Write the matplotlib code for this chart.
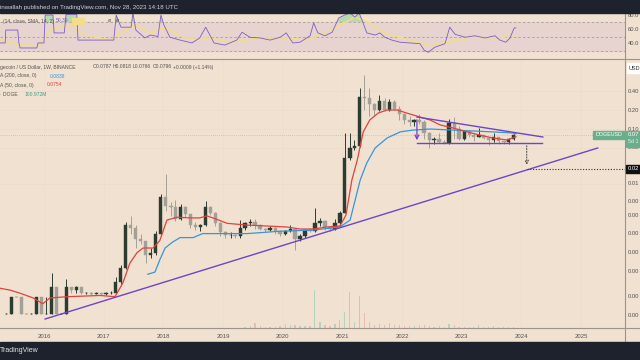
import matplotlib
matplotlib.use("Agg")
import matplotlib.pyplot as plt
import numpy as np
import pandas as pd
from matplotlib.patches import Rectangle
from matplotlib.lines import Line2D

plt.rcParams['font.family'] = ['Liberation Sans', 'DejaVu Sans']

BG = "#f1e1d1"
DARK = "#1e222d"
TXT = "#555250"

# monthly DOGE/USD candles, May 2015 .. Nov 2023
months = pd.date_range("2015-05-01", "2023-11-01", freq="MS")
close = [0.000117, 0.00022, 0.00022, 0.000117, 0.000117, 0.000117, 0.00022, 0.000117,
         0.000117, 0.00031, 0.000117, 0.000117, 0.00031, 0.00028, 0.00031, 0.00025, 0.00025, 0.00024, 0.00025, 0.00024,
         0.00025, 0.00025, 0.00038, 0.00062, 0.0030, 0.0027, 0.0018, 0.0017, 0.0010, 0.0011, 0.0022, 0.0085,
         0.0060, 0.0058, 0.0038, 0.0058, 0.0045, 0.0030, 0.0028, 0.0030, 0.0058, 0.0047, 0.0032, 0.0023,
         0.0021, 0.0021, 0.0020, 0.0027, 0.0032, 0.0033, 0.0030, 0.0026, 0.0025, 0.0027, 0.0024, 0.0022,
         0.0024, 0.0026, 0.0018, 0.0020, 0.0025, 0.0024, 0.0032, 0.0035, 0.0028, 0.0026, 0.0032, 0.0047,
         0.035, 0.050, 0.054, 0.32, 0.31, 0.245, 0.20, 0.28, 0.20, 0.27, 0.21, 0.17,
         0.14, 0.13, 0.14, 0.13, 0.086, 0.066, 0.069, 0.063, 0.061, 0.125, 0.100, 0.070,
         0.092, 0.080, 0.076, 0.080, 0.072, 0.067, 0.074, 0.064, 0.063, 0.069, 0.0796]
high = [0.00012, 0.00022, 0.00022, 0.00022, 0.000117, 0.00012, 0.00022, 0.00022,
        0.00022, 0.00052, 0.00031, 0.00012, 0.00042, 0.00031, 0.00033, 0.00031, 0.00026, 0.00026, 0.00026, 0.00025,
        0.00026, 0.00027, 0.00045, 0.00070, 0.0034, 0.0042, 0.0030, 0.0022, 0.0017, 0.0013, 0.0024, 0.0095,
        0.0194, 0.0070, 0.0075, 0.0065, 0.0060, 0.0045, 0.0034, 0.0031, 0.0072, 0.0060, 0.0048, 0.0033,
        0.0024, 0.0023, 0.0022, 0.0036, 0.0034, 0.0038, 0.0037, 0.0031, 0.0027, 0.0029, 0.0028, 0.0025,
        0.0025, 0.0030, 0.0027, 0.0022, 0.0026, 0.0027, 0.0055, 0.0039, 0.0036, 0.0029, 0.0037, 0.0050,
        0.087, 0.085, 0.066, 0.45, 0.72, 0.44, 0.26, 0.35, 0.31, 0.30, 0.29, 0.23,
        0.18, 0.16, 0.145, 0.17, 0.14, 0.09, 0.075, 0.088, 0.066, 0.146, 0.155, 0.11,
        0.095, 0.098, 0.085, 0.104, 0.081, 0.074, 0.087, 0.076, 0.065, 0.072, 0.082]
low = [0.000115, 0.000117, 0.00022, 0.000117, 0.000117, 0.000115, 0.000117, 0.000117,
       0.000117, 0.000117, 0.000117, 0.000115, 0.000117, 0.00025, 0.00025, 0.00024, 0.00024, 0.00023, 0.00024, 0.00023,
       0.00023, 0.00024, 0.00024, 0.00035, 0.00060, 0.0022, 0.0013, 0.0015, 0.00075, 0.00090, 0.0010, 0.0021,
       0.0050, 0.0042, 0.0035, 0.0036, 0.0040, 0.0027, 0.0025, 0.0024, 0.0029, 0.0044, 0.0029, 0.0020,
       0.0019, 0.0019, 0.0019, 0.0019, 0.0025, 0.0029, 0.0026, 0.0025, 0.0023, 0.0024, 0.0022, 0.0020,
       0.0021, 0.0023, 0.0012, 0.0017, 0.0019, 0.0023, 0.0023, 0.0029, 0.0025, 0.0024, 0.0025, 0.0030,
       0.0046, 0.032, 0.046, 0.052, 0.20, 0.16, 0.16, 0.19, 0.19, 0.19, 0.20, 0.14,
       0.12, 0.11, 0.11, 0.12, 0.07, 0.05, 0.058, 0.06, 0.058, 0.058, 0.07, 0.068,
       0.068, 0.076, 0.064, 0.075, 0.069, 0.055, 0.063, 0.058, 0.058, 0.057, 0.067]
# volume, billions DOGE
vol = [0] * 48 + [0.1, 0.2, 0.5, 0.2, 0.1, 0.1, 0.1, 0.2,
                  0.4, 0.3, 0.3, 0.2, 0.2, 0.2, 3.8, 0.6, 0.3, 0.2, 0.4, 0.8,
                  1.6, 3.6, 0.6, 3.2, 1.5, 0.6, 0.3, 0.4, 0.3, 0.5, 0.3, 0.3,
                  0.2, 0.2, 0.2, 0.3, 0.3, 0.2, 0.1, 0.2, 0.1, 0.4, 0.3, 0.1,
                  0.1, 0.1, 0.1, 0.3, 0.1, 0.1, 0.2, 0.1, 0.1, 0.1, 0.1]

ma50_t = [2015.26, 2015.43, 2015.60, 2015.82, 2015.98, 2016.10, 2016.39, 2016.94, 2017.19, 2017.32,
          2017.44, 2017.56, 2017.66, 2017.83, 2017.94, 2018.06, 2018.23, 2018.45, 2018.61, 2018.73,
          2018.83, 2019.07, 2019.40, 2019.74, 2020.07, 2020.29, 2020.51, 2020.74, 2020.96, 2021.06,
          2021.16, 2021.25, 2021.35, 2021.46, 2021.60, 2021.75, 2021.92, 2022.08, 2022.30, 2022.47,
          2022.64, 2022.85, 2023.09, 2023.31, 2023.52, 2023.76, 2023.91]
ma50 = [0.00030, 0.00028, 0.00025, 0.00021, 0.00017, 0.00021, 0.00022, 0.00023, 0.00022, 0.00036,
        0.00075, 0.0011, 0.0013, 0.0013, 0.0017, 0.0036, 0.0040, 0.0039, 0.0039, 0.0042,
        0.0039, 0.0032, 0.0030, 0.0029, 0.0028, 0.0026, 0.0026, 0.0028, 0.0029, 0.0043,
        0.0156, 0.032, 0.090, 0.139, 0.179, 0.20, 0.20, 0.179, 0.155, 0.139,
        0.116, 0.104, 0.090, 0.080, 0.072, 0.067, 0.0754]
ma200_t = [2017.74, 2017.86, 2017.94, 2018.03, 2018.15, 2018.28, 2018.50, 2018.66, 2018.83, 2019.07,
           2019.40, 2019.96, 2020.51, 2020.96, 2021.13, 2021.30, 2021.41, 2021.55, 2021.75, 2021.97,
           2022.18, 2022.47, 2022.85, 2023.19, 2023.52, 2023.86, 2023.91]
ma200 = [0.00050, 0.00054, 0.00084, 0.0013, 0.0016, 0.0019, 0.0019, 0.0022, 0.0022, 0.0022,
         0.0022, 0.0024, 0.0025, 0.0028, 0.0036, 0.0156, 0.029, 0.050, 0.072, 0.090,
         0.096, 0.100, 0.096, 0.093, 0.090, 0.0864, 0.0838]

rsi_t = [2015.26, 2015.35, 2015.36, 2015.56, 2015.58, 2015.60, 2015.88, 2015.90, 2016.00, 2016.02,
         2016.15, 2016.17, 2016.34, 2016.37, 2016.55, 2016.57, 2017.17, 2017.21, 2017.29, 2017.46,
         2017.49, 2017.54, 2017.69, 2017.78, 2017.91, 2017.96, 2018.01, 2018.11, 2018.28, 2018.48,
         2018.61, 2018.71, 2018.78, 2018.85, 2019.03, 2019.23, 2019.32, 2019.45, 2019.62, 2019.79,
         2019.96, 2020.06, 2020.17, 2020.29, 2020.46, 2020.52, 2020.59, 2020.71, 2020.83, 2020.94,
         2021.04, 2021.13, 2021.21, 2021.28, 2021.33, 2021.41, 2021.55, 2021.63, 2021.71, 2021.83,
         2021.97, 2022.13, 2022.30, 2022.37, 2022.44, 2022.55, 2022.72, 2022.80, 2022.89, 2023.06,
         2023.22, 2023.39, 2023.56, 2023.64, 2023.74, 2023.81, 2023.88, 2023.91]
rsi = [41, 41, 59, 59, 41, 34, 34, 41, 41, 80,
       80, 55, 55, 81, 81, 45, 45, 80, 63, 63,
       83, 59, 48, 52, 50, 80, 66, 49, 45, 41,
       48, 63, 52, 41, 38, 45, 56, 49, 48, 45,
       49, 55, 41, 42, 51, 69, 55, 51, 56, 76,
       80, 83, 77, 83, 73, 55, 52, 55, 49, 45,
       42, 41, 40, 31, 28, 35, 40, 63, 53, 49,
       51, 48, 51, 45, 42, 48, 62, 62]
rsi_sma_t = [2015.26, 2015.60, 2015.93, 2016.10, 2016.44, 2016.69, 2017.11, 2017.36, 2017.53, 2017.78,
             2018.03, 2018.36, 2018.78, 2019.12, 2019.62, 2020.12, 2020.37, 2020.63, 2020.96, 2021.21,
             2021.43, 2021.71, 2022.13, 2022.47, 2022.80, 2023.14, 2023.64, 2023.91]
rsi_sma = [45, 38, 37, 59, 66, 52, 45, 59, 66, 55,
           62, 48, 48, 42, 48, 48, 45, 52, 66, 77,
           70, 55, 45, 37, 42, 49, 48, 52]

years = list(range(2016, 2026))
# price scale labels, as far as they show before the right edge
price_ticks = [0.40, 0.20, 0.10, 0.05, 0.0135, 0.0072, 0.0042, 0.0022, 0.0011, 0.00055, 0.00022, 0.00011]
price_labels = ["0.40", "0.20", "0.10", "0.05", "0.01", "0.00", "0.00",
                "0.00", "0.00", "0.00", "0.00", "0.00"]
rsi_ticks = [80, 60, 40]
rsi_labels = ["80.0", "60.0", "40.0"]

# drawn lines: (start date, start price), (end date, end price)
trend_line = [(2016.02, 0.0000975), (2025.28, 0.050)]
tri_upper = [(2022.25, 0.155), (2024.36, 0.0747)]
tri_lower = [(2022.25, 0.060), (2024.34, 0.060)]
target = 0.0232
last_price = 0.0796


def fx(px):
    return px / 640


def fy(py):
    return 1 - py / 360


t = months.year + (months.dayofyear - 1) / 365.25 + 1 / 24
t = np.asarray(t, dtype=float)
opn = [close[0]] + close[:-1]
up = [c >= o for o, c in zip(opn, close)]

fig = plt.figure(figsize=(6.4, 3.6), dpi=100)
fig.patch.set_facecolor(BG)

# main price panel
ax = fig.add_axes([0, fy(328), fx(625), (328 - 59) / 360])
axv = ax.twinx()
ax.set_zorder(axv.get_zorder() + 1)
ax.patch.set_visible(False)
for a in (ax, axv):
    a.set_xlim(2015.263, 2025.737)
    for s in a.spines.values():
        s.set_visible(False)
    a.set_xticks([])
    a.set_yticks([])
ax.set_yscale("log")
ax.set_ylim(7.02e-5, 1.2865)
ax.minorticks_off()
ax.set_yticks([])

# faint grid
for yr in years:
    ax.axvline(yr, color="#ecdccc", lw=0.5, zorder=0)
for p in price_ticks[:5]:
    ax.axhline(p, color="#ecdccc", lw=0.5, zorder=0)

# volume
vcol = ["#a8cdb8" if u else "#e7b2a6" for u in up]
axv.bar(t, vol, width=0.02, color=vcol, alpha=0.8)
axv.set_ylim(0, 26.9)

# candles
ucol, dcol = "#2a3d30", "#a3a098"
cols = [ucol if u else dcol for u in up]
ax.vlines(t, low, high, colors=cols, lw=0.7, zorder=2)
bot = [min(o, c) for o, c in zip(opn, close)]
hgt = [abs(c - o) for o, c in zip(opn, close)]
ax.bar(t, hgt, bottom=bot, width=0.055, color=cols, edgecolor=cols, lw=0.3, zorder=3)

ax.plot(ma200_t, ma200, color="#3596dd", lw=0.9, zorder=4)
ax.plot(ma50_t, ma50, color="#e2423c", lw=0.9, zorder=4)

purple = "#6b46c6"
for ln in (trend_line, tri_upper, tri_lower):
    ax.plot([ln[0][0], ln[1][0]], [ln[0][1], ln[1][1]], color=purple, lw=1.0, zorder=5)
ax.annotate("", xy=(2022.25, 0.060), xytext=(2022.25, 0.155),
            arrowprops=dict(arrowstyle="->", color=purple, lw=0.9, mutation_scale=7), zorder=5)
ax.annotate("", xy=(2024.09, 0.0245), xytext=(2024.09, 0.060),
            arrowprops=dict(arrowstyle="->", color="#555555", lw=0.8, ls=(0, (1, 1.5)),
                            mutation_scale=6), zorder=5)
ax.plot([2024.09, 2025.737], [target, target], color="#333333", lw=0.8, ls=(0, (1, 1.5)), zorder=5)
ax.axhline(last_price, color="#c9b9a9", lw=0.6, ls=(0, (1, 1.5)), zorder=1)

# price axis labels
ytr = ax.get_yaxis_transform()
for p, lab in zip(price_ticks, price_labels):
    ax.text(1.0048, p, lab, transform=ytr, fontsize=4.2, color=TXT, va="center", ha="left",
            clip_on=False)
xtr = ax.get_xaxis_transform()
for yr in years:
    ax.text(yr, -8 / 269, str(yr), transform=xtr, fontsize=4.3, color=TXT, ha="center",
            va="center", clip_on=False)

# RSI panel
axr = fig.add_axes([0, fy(58), fx(625), 45 / 360])
axr.set_xlim(2015.263, 2025.737)
axr.set_ylim(20, 82.8)
axr.patch.set_visible(False)
for s in axr.spines.values():
    s.set_visible(False)
axr.set_xticks([])
axr.set_yticks([])
axr.axhspan(30, 70, color="#e7d4d0", zorder=0)
for lv in (70, 50, 30):
    axr.axhline(lv, color="#a89e96", lw=0.6, ls=(0, (3, 2.5)), zorder=1)
rsi_a = np.array(rsi, dtype=float)
axr.fill_between(rsi_t, rsi_a, 70, where=rsi_a > 70, interpolate=True, color="#a9d8a6",
                 alpha=0.8, lw=0, zorder=1)
axr.fill_between(rsi_t, rsi_a, 30, where=rsi_a < 30, interpolate=True, color="#eaa9a4",
                 alpha=0.8, lw=0, zorder=1)
axr.plot(rsi_sma_t, rsi_sma, color="#f3dc86", lw=1.1, zorder=2)
axr.plot(rsi_t, rsi, color="#7e5cc4", lw=0.6, zorder=3)
rtr = axr.get_yaxis_transform()
for v, lab in zip(rsi_ticks, rsi_labels):
    axr.text(1.0048, v, lab, transform=rtr, fontsize=4.2, color=TXT, va="center",
             clip_on=False)

# frame and bars
fig.add_artist(Rectangle((0, fy(13)), 1, 13 / 360, transform=fig.transFigure, color=DARK, zorder=10))
fig.add_artist(Rectangle((0, 0), 1, 18 / 360, transform=fig.transFigure, color=DARK, zorder=10))
lc = "#9c948c"
fig.add_artist(Line2D([0, 1], [fy(58.5), fy(58.5)], color=lc, lw=0.8))
fig.add_artist(Line2D([0, 1], [fy(328), fy(328)], color=lc, lw=0.8))
fig.add_artist(Line2D([fx(625), fx(625)], [fy(13), fy(342)], color=lc, lw=0.8))

fig.text(fx(0), fy(7), "inwallah published on TradingView.com, Nov 28, 2023 14:18 UTC",
         fontsize=4.4, color="#d1d4dc", va="center", zorder=11)
fig.text(fx(0), fy(351), "TradingView", fontsize=5, color="#e0e3eb", va="center", zorder=11)


def label(x, y, s, color=TXT, size=3.6, **kw):
    fig.text(fx(x), fy(y), s, fontsize=size, color=color, va="center", zorder=12, **kw)


label(0, 67, "gecoin / US Dollar, 1W, BINANCE")
label(93, 67, "O0.0787")
label(113, 67, "H0.0818")
label(133, 67, "L0.0766")
label(153, 67, "C0.0796")
label(173, 67, "+0.0009 (+1.14%)")
label(0, 76, "A (200, close, 0)")
label(50, 76, "0.0838", color="#3596dd")
label(0, 85, "A (50, close, 0)")
label(47, 85, "0.0754", color="#e2423c")
label(0, 94, "· DOGE")
label(25, 94, "100.972M", color="#3f9e84")

label(3, 21, "(14, close, SMA, 14, 2)")
label(56, 21, "50.39", color="#7e5cc4")
fig.add_artist(Rectangle((fx(72), fy(24)), fx(12), 6 / 360, transform=fig.transFigure,
                         color="#f2de8a", zorder=11))
label(108, 21, "ø")
label(116, 21, "ø")

# price-scale markers
green = "#6aae8c"
fig.add_artist(Rectangle((fx(593), fy(139)), fx(31), 8 / 360, transform=fig.transFigure,
                         color=green, zorder=11))
label(595, 135, "DOGEUSD", color="white", size=3.9)
fig.add_artist(Rectangle((fx(626), fy(147)), fx(14), 16 / 360, transform=fig.transFigure,
                         color=green, zorder=11))
label(628, 135, "0.07", color="white", size=4.2)
label(628, 142, "5d 1", color="#e6f2ea", size=3.9)
fig.add_artist(Rectangle((fx(626), fy(173)), fx(14), 8 / 360, transform=fig.transFigure,
                         color="#111111", zorder=11))
label(628, 169, "0.02", color="white", size=4.2)
fig.add_artist(Rectangle((fx(627), fy(73)), fx(13), 10 / 360, transform=fig.transFigure,
                         color="white", zorder=11))
label(628.5, 68, "USD", color="#333333", size=4.0)

fig.savefig("out.png", dpi=100, facecolor=BG)
